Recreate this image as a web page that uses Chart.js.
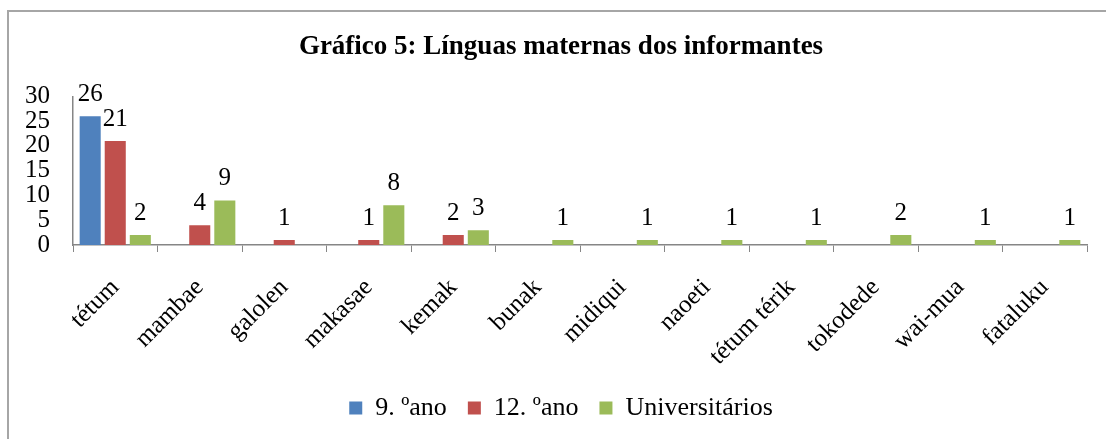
<!DOCTYPE html>
<html>
<head>
<meta charset="utf-8">
<script src="https://cdn.jsdelivr.net/npm/chart.js@4/dist/chart.umd.min.js"></script>
<style>
  html, body { margin: 0; padding: 0; background: #fff; overflow: hidden; }
  #wrap { position: relative; width: 1106px; height: 439px; }
  #frame { position: absolute; left: 7px; top: 10px; width: 1200px; height: 600px;
           border-left: 2px solid #a6a6a6; border-top: 2px solid #a6a6a6; }
  canvas { position: absolute; left: 0; top: 0; }
</style>
</head>
<body>
<div id="wrap">
  <div id="frame"></div>
  <canvas id="c" width="1106" height="439"></canvas>
</div>
<script>
const categories = ["tétum", "mambae", "galolen", "makasae", "kemak", "bunak", "midiqui", "naoeti", "tétum térik", "tokodede", "wai-mua", "fataluku"];
const seriesNames = ["9. ºano", "12. ºano", "Universitários"];
const ano9 = [26, 0, 0, 0, 0, 0, 0, 0, 0, 0, 0, 0];
const ano12 = [21, 4, 1, 1, 2, 0, 0, 0, 0, 0, 0, 0];
const universitarios = [2, 9, 0, 8, 3, 1, 1, 1, 1, 2, 1, 1];
const yTicks = [0, 5, 10, 15, 20, 25, 30];
const titleText = "Gráfico 5: Línguas maternas dos informantes";

const FONT = "'Liberation Serif', 'Times New Roman', serif";
const colors = ["#4F81BD", "#C0504D", "#9BBB59"];
const axisColor = "#868686";

const valueLabels = {
  id: "valueLabels",
  afterDatasetsDraw(chart) {
    const ctx = chart.ctx;
    ctx.save();
    ctx.font = "25px " + FONT;
    ctx.fillStyle = "#000";
    ctx.textAlign = "center";
    ctx.textBaseline = "middle";
    chart.data.datasets.forEach((ds, i) => {
      const meta = chart.getDatasetMeta(i);
      meta.data.forEach((el, j) => {
        const v = ds.data[j];
        if (v > 0) ctx.fillText(String(v), el.x, el.y - 22);
      });
    });
    ctx.restore();
  }
};

const seriesData = [ano9, ano12, universitarios];
new Chart(document.getElementById("c"), {
  type: "bar",
  data: {
    labels: categories,
    datasets: seriesNames.map((n, i) => ({
      label: n,
      data: seriesData[i],
      backgroundColor: colors[i],
      borderWidth: 0,
      categoryPercentage: 0.89,
      barPercentage: 0.84
    }))
  },
  options: {
    responsive: false,
    animation: false,
    layout: { padding: { left: 35, right: 19, top: 0, bottom: 8 } },
    plugins: {
      title: {
        display: true,
        text: titleText,
        color: "#000",
        font: { family: FONT, size: 27, weight: "bold" },
        padding: { top: 31, bottom: 33 }
      },
      legend: {
        position: "bottom",
        labels: {
          color: "#000",
          font: { family: FONT, size: 26 },
          boxWidth: 13,
          boxHeight: 13,
          padding: 21
        }
      },
      tooltip: { enabled: false }
    },
    scales: {
      x: {
        grid: { display: true, drawOnChartArea: false, offset: true, color: axisColor, tickLength: 7 },
        border: { color: axisColor, width: 1.5 },
        ticks: { color: "#000", font: { family: FONT, size: 25 }, minRotation: 45, maxRotation: 45, padding: 21 },
        afterFit(scale) { scale.height = 129; }
      },
      y: {
        min: 0, max: 30,
        afterBuildTicks(scale) { scale.ticks = yTicks.map(v => ({ value: v })); },
        grid: { display: false },
        border: { color: axisColor, width: 1.5 },
        ticks: { color: "#000", font: { family: FONT, size: 25 }, autoSkip: false, mirror: true, crossAlign: "far", padding: -48 },
        afterFit(scale) { scale.width = 38; }
      }
    }
  },
  plugins: [valueLabels]
});
</script>
</body>
</html>
